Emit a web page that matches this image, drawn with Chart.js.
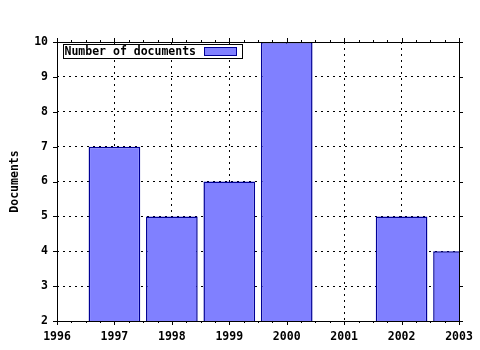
<!DOCTYPE html>
<html>
<head>
<meta charset="utf-8">
<script src="https://cdn.jsdelivr.net/npm/chart.js@4"></script>
<style>
  html, body { margin: 0; padding: 0; background: #fff; }
  canvas { display: block; }
</style>
</head>
<body>
<canvas id="chart" width="480" height="350"></canvas>
<script>
// --- Data ---
const years = ['1996', '1997', '1998', '1999', '2000', '2001', '2002', '2003'];
const documents = [null, 7, 5, 6, 10, null, 5, 4];
const seriesLabel = 'Number of documents';
const yTitle = 'Documents';
const yMin = 2;
const yMax = 10;

const FONT = 'bold 11.5px "DejaVu Sans Mono", monospace';
const fillColor = 'rgb(128,128,255)';
const edgeColor = 'rgb(0,0,150)';

// frame, outward ticks (mirrored), minor x ticks and the in-plot legend
const gnuplotFrame = {
    id: 'gnuplotFrame',
    afterDraw(chart) {
        const ctx = chart.ctx;
        const a = chart.chartArea;
        const xs = chart.scales.x;
        const ys = chart.scales.y;
        ctx.save();
        ctx.strokeStyle = '#000';
        ctx.lineWidth = 1;

        ctx.beginPath();
        // x ticks, major + 3 minor between
        for (let i = 0; i < years.length; i++) {
            const px = Math.round(xs.getPixelForValue(i)) + 0.5;
            ctx.moveTo(px, a.bottom); ctx.lineTo(px, a.bottom + 4);
            ctx.moveTo(px, a.top); ctx.lineTo(px, a.top - 4);
            if (i < years.length - 1) {
                for (let k = 1; k < 4; k++) {
                    const mx = Math.round(xs.getPixelForValue(i + k / 4)) + 0.5;
                    ctx.moveTo(mx, a.bottom); ctx.lineTo(mx, a.bottom + 2);
                    ctx.moveTo(mx, a.top); ctx.lineTo(mx, a.top - 2);
                }
            }
        }
        // y ticks
        for (let v = yMin; v <= yMax; v++) {
            const py = Math.round(ys.getPixelForValue(v)) + 0.5;
            ctx.moveTo(a.left - 4, py); ctx.lineTo(a.left, py);
            ctx.moveTo(a.right, py); ctx.lineTo(a.right + 4, py);
        }
        ctx.stroke();

        // border box
        ctx.strokeRect(Math.round(a.left) + 0.5, Math.round(a.top) + 0.5,
            Math.round(a.right - a.left), Math.round(a.bottom - a.top));

        // legend
        const lx = Math.round(a.left) + 6.5;
        const ly = Math.round(a.top) + 2.5;
        ctx.fillStyle = '#fff';
        ctx.fillRect(lx, ly, 179, 14);
        ctx.strokeRect(lx, ly, 179, 14);
        ctx.font = FONT;
        ctx.fillStyle = '#000';
        ctx.textBaseline = 'middle';
        ctx.textAlign = 'left';
        ctx.fillText(seriesLabel, lx + 1, ly + 7.5);
        ctx.fillStyle = fillColor;
        ctx.fillRect(lx + 141, ly + 3, 32, 8);
        ctx.strokeStyle = edgeColor;
        ctx.strokeRect(lx + 141, ly + 3, 32, 8);
        ctx.restore();
    }
};

new Chart(document.getElementById('chart'), {
    type: 'bar',
    data: {
        labels: years,
        datasets: [{
            label: seriesLabel,
            data: documents,
            backgroundColor: fillColor,
            borderColor: edgeColor,
            borderWidth: 1.5,
            borderSkipped: false,
            categoryPercentage: 1,
            barPercentage: 0.9
        }]
    },
    options: {
        responsive: false,
        animation: false,
        events: [],
        layout: { padding: { left: 0, top: 42, right: 21, bottom: 0 } },
        plugins: {
            legend: { display: false },
            tooltip: { enabled: false }
        },
        scales: {
            x: {
                type: 'category',
                offset: false,
                grid: { offset: false, color: '#000', drawTicks: false, lineWidth: 1 },
                border: { display: false, dash: [2, 4] },
                ticks: {
                    autoSkip: false, maxRotation: 0, padding: 9,
                    color: '#000', font: { family: '"DejaVu Sans Mono", monospace', size: 11.5, weight: 'bold' }
                },
                afterFit(scale) {
                    scale.height = 29;
                    scale.paddingLeft = 0;
                    scale.paddingRight = 0;
                }
            },
            y: {
                min: yMin,
                max: yMax,
                grid: { color: '#000', drawTicks: false, lineWidth: 1 },
                border: { display: false, dash: [2, 4] },
                ticks: {
                    stepSize: 1, padding: 9,
                    color: '#000', font: { family: '"DejaVu Sans Mono", monospace', size: 11.5, weight: 'bold' }
                },
                title: {
                    display: true, text: yTitle, color: '#000', padding: { top: 8, bottom: 0 },
                    font: { family: '"DejaVu Sans Mono", monospace', size: 11.5, weight: 'bold' }
                },
                afterFit(scale) { scale.width = 57; }
            }
        }
    },
    plugins: [gnuplotFrame]
});
</script>
</body>
</html>
